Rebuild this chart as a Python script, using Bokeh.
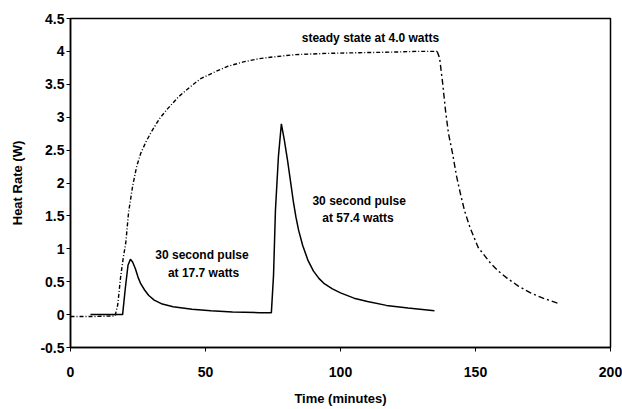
from bokeh.plotting import figure
from bokeh.models import Range1d, FixedTicker
from bokeh.embed import file_html
from bokeh.resources import INLINE
from bokeh.core.properties import value

# ---- data ----
ss_time = [0, 8, 16.5, 17.5, 18.5, 19.5, 20.5, 21.5, 23, 24.5, 26, 28, 30, 33, 36,
           40, 44, 48, 53, 58, 64, 70, 76, 83, 95, 107, 120, 128, 135.8]
ss_heat = [-0.03, -0.03, -0.02, 0.15, 0.55, 0.85, 1.1, 1.55, 1.95, 2.25, 2.45, 2.63,
           2.78, 2.98, 3.13, 3.31, 3.45, 3.58, 3.68, 3.77, 3.84, 3.89, 3.92, 3.95,
           3.97, 3.98, 3.99, 4.0, 4.0]

cool_time = [135.8, 136.7, 137.8, 138.9, 140, 141.5, 143, 144.4, 146, 148, 151,
             155.6, 158.5, 161.8, 166, 170.4, 175, 180.7]
cool_heat = [4.0, 3.9, 3.53, 3.1, 2.75, 2.45, 2.1, 1.84, 1.57, 1.32, 1.02, 0.78,
             0.66, 0.55, 0.43, 0.33, 0.25, 0.17]

pulse_time = [7.4, 12, 19.3, 20.3, 21.3, 22.2, 23, 24, 25, 26, 27.5, 29, 31, 34, 38,
              45, 52, 60, 70, 74.4, 75.2, 75.9, 77, 78.1, 79.2, 80.4, 81.5, 82.6,
              83.5, 84.5, 86, 88, 90, 92, 94, 97, 100, 105, 110, 117, 125, 134.8]
pulse_heat = [0.0, 0.0, 0.0, 0.4, 0.75, 0.84, 0.8, 0.7, 0.57, 0.47, 0.37, 0.29, 0.22,
              0.16, 0.12, 0.08, 0.06, 0.04, 0.03, 0.03, 0.6, 1.58, 2.4, 2.9, 2.65,
              2.34, 2.02, 1.7, 1.48, 1.28, 1.05, 0.82, 0.66, 0.55, 0.47, 0.39, 0.33,
              0.25, 0.2, 0.14, 0.1, 0.06]

x_ticks = [0, 50, 100, 150, 200]
y_ticks = [-0.5, 0, 0.5, 1, 1.5, 2, 2.5, 3, 3.5, 4, 4.5]
y_tick_labels = ["-0.5", "0", "0.5", "1", "1.5", "2", "2.5", "3", "3.5", "4", "4.5"]

notes = ["steady state at 4.0 watts", "30 second pulse", "at 17.7 watts",
         "30 second pulse", "at 57.4 watts"]
note_x = [111.1, 48.7, 49.3, 106.9, 106.5]
note_y = [4.21, 0.91, 0.63, 1.73, 1.47]

FONT = "Liberation Sans"

p = figure(width=622, height=409, output_backend="svg", toolbar_location=None,
           x_range=Range1d(0, 200), y_range=Range1d(-0.5, 4.5),
           min_border_left=70, min_border_right=12, min_border_top=18,
           min_border_bottom=62)
p.background_fill_color = "white"
p.border_fill_color = "white"
p.outline_line_color = "black"
p.outline_line_width = 1.5
p.xgrid.visible = False
p.ygrid.visible = False

for ax in (p.xaxis, p.yaxis):
    ax.axis_line_color = "black"
    ax.axis_line_width = 1.5
    ax.major_tick_in = 0
    ax.major_tick_out = 4
    ax.major_tick_line_color = "black"
    ax.minor_tick_line_color = None
    ax.major_label_text_font = FONT
    ax.major_label_text_font_style = "bold"
    ax.major_label_text_font_size = "14px"
    ax.major_label_text_color = "black"
    ax.axis_label_text_font = FONT
    ax.axis_label_text_font_style = "bold"
    ax.axis_label_text_font_size = "13px"
    ax.axis_label_text_color = "black"

p.xaxis.ticker = FixedTicker(ticks=x_ticks)
p.yaxis.ticker = FixedTicker(ticks=y_ticks)
p.yaxis.major_label_overrides = {t: l for t, l in zip(y_ticks, y_tick_labels)}
p.xaxis.axis_label = "Time (minutes)"
p.yaxis.axis_label = "Heat Rate (W)"
p.xaxis.major_label_standoff = 15
p.xaxis.axis_label_standoff = 11
p.yaxis.major_label_standoff = 2
p.yaxis.axis_label_standoff = 12

p.line(ss_time, ss_heat, line_color="black", line_width=1.4, line_dash="4 2 1 2")
p.line(cool_time, cool_heat, line_color="black", line_width=1.4, line_dash="6 3 2 3")
p.line(pulse_time, pulse_heat, line_color="black", line_width=1.5)

p.text(x=note_x, y=note_y, text=notes, text_font=value(FONT),
       text_font_style="bold", text_font_size="12px", text_color="black",
       text_align="center", text_baseline="middle")

open("out.html", "w").write(file_html(p, INLINE))
